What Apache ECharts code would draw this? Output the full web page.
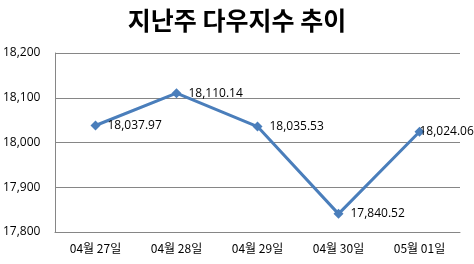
<!DOCTYPE html>
<html><head><meta charset="utf-8">
<script src="https://cdn.jsdelivr.net/npm/echarts@6/dist/echarts.min.js"></script>
<style>html,body{margin:0;padding:0;background:#fff}#c{width:474px;height:264px}</style>
</head><body><div id="c"></div>
<script>
const categories = ['04월 27일','04월 28일','04월 29일','04월 30일','05월 01일'];
const values = [18037.97, 18110.14, 18035.53, 17840.52, 18024.06];
const yTicks = [17800, 17900, 18000, 18100, 18200];
const titleText = '지난주 다우지수 추이';
const fmt = v => v.toLocaleString('en-US', {minimumFractionDigits: 2, maximumFractionDigits: 2});
const seriesData = values.map((v, i) => i === values.length - 1
  ? {value: v, label: {offset: [-12, 0]}}
  : {value: v});
const chart = echarts.init(document.getElementById('c'));
chart.setOption({
  animation: false,
  title: {text: titleText, left: 'center', top: 3,
    textStyle: {fontFamily: 'Noto Sans CJK KR', fontWeight: 'bold', fontSize: 25, color: '#000'}},
  grid: {left: 55, right: 14, top: 53, bottom: 32, containLabel: false},
  xAxis: {type: 'category', data: categories, boundaryGap: true,
    axisLine: {lineStyle: {color: '#868686', width: 1}}, axisTick: {show: false},
    axisLabel: {color: '#000', fontSize: 12, fontFamily: 'Noto Sans CJK KR', margin: 10}},
  yAxis: {type: 'value', min: yTicks[0], max: yTicks[yTicks.length-1], interval: 100,
    axisLine: {show: true, lineStyle: {color: '#868686', width: 1}}, axisTick: {show: false},
    splitLine: {lineStyle: {color: '#868686', width: 1}},
    axisLabel: {color: '#000', fontSize: 12, fontFamily: 'Open Sans', align: 'left', margin: 52,
      formatter: v => v.toLocaleString('en-US')}},
  series: [{type: 'line', data: seriesData, symbol: 'diamond', symbolSize: 10,
    lineStyle: {color: '#4a7ebb', width: 3}, itemStyle: {color: '#4a7ebb'},
    label: {show: true, position: 'right', distance: 7, color: '#000', fontSize: 12, fontFamily: 'Open Sans',
      formatter: p => fmt(p.value)}}]
});
</script></body></html>
